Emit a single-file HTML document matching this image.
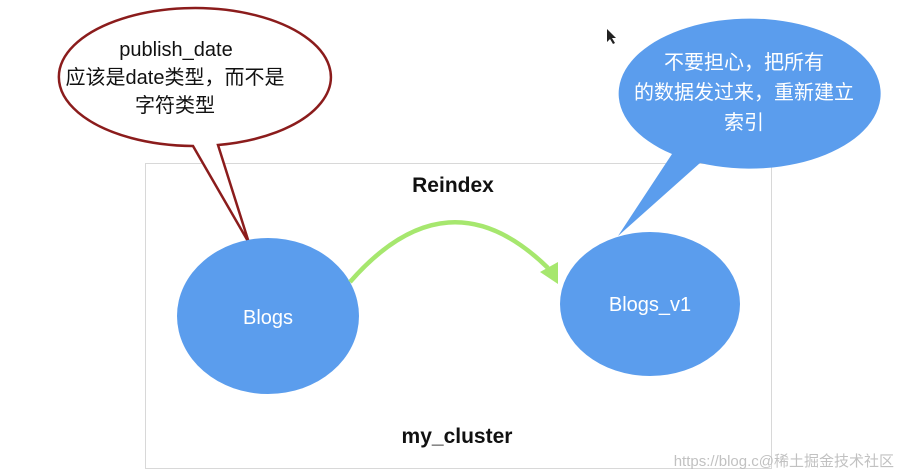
<!DOCTYPE html>
<html><head><meta charset="utf-8"><style>
html,body{margin:0;padding:0;background:#fff;width:901px;height:476px;overflow:hidden}
svg{display:block}
</style></head><body>
<svg width="901" height="476" viewBox="0 0 901 476" xmlns="http://www.w3.org/2000/svg" font-family="Liberation Sans, Noto Sans CJK SC, sans-serif">
<rect x="145.5" y="163.5" width="626" height="305" fill="none" stroke="#d8d8d8" stroke-width="1"/>
<path d="M193,146 A136,69 0 1 1 218,145 L249,243 Z" fill="#fff" stroke="#8b1c1c" stroke-width="2.5" stroke-linejoin="miter"/>
<text x="176" y="56" font-size="20" text-anchor="middle" fill="#111">publish_date</text>
<text x="175" y="84" font-size="20" text-anchor="middle" fill="#111">应该是date类型，而不是</text>
<text x="175" y="112" font-size="20" text-anchor="middle" fill="#111">字符类型</text>
<path d="M672,154 A131,75 0 1 1 700,163 L618,236 Z" fill="#5b9ded"/>
<text x="744" y="69" font-size="20" text-anchor="middle" fill="#fff">不要担心，把所有</text>
<text x="744" y="99" font-size="20" text-anchor="middle" fill="#fff">的数据发过来，重新建立</text>
<text x="744" y="129" font-size="20" text-anchor="middle" fill="#fff">索引</text>
<ellipse cx="268" cy="316" rx="91" ry="78" fill="#5b9ded"/>
<text x="268" y="324" font-size="20" text-anchor="middle" fill="#fff">Blogs</text>
<ellipse cx="650" cy="304" rx="90" ry="72" fill="#5b9ded"/>
<text x="650" y="311" font-size="20" text-anchor="middle" fill="#fff">Blogs_v1</text>
<path d="M350,282 Q448,170 548,268" fill="none" stroke="#a6e76e" stroke-width="4.5"/>
<polygon points="540,272 558,262 558,284" fill="#a6e76e"/>
<text x="453" y="192" font-size="21" font-weight="bold" text-anchor="middle" fill="#111">Reindex</text>
<text x="457" y="443" font-size="21" font-weight="bold" text-anchor="middle" fill="#111">my_cluster</text>
<path d="M607,29 L607,42 L610,39 L613,44 L615,43 L612,38 L616,38 Z" fill="#222"/>
<text x="894" y="466" font-size="15" text-anchor="end" fill="#bbb" opacity="0.9">https://blog.c@稀土掘金技术社区</text>
</svg>
</body></html>
